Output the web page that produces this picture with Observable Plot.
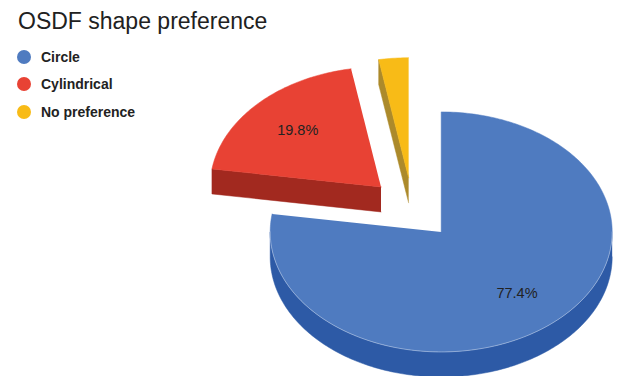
<!DOCTYPE html>
<html>
<head>
<meta charset="utf-8">
<script src="https://cdn.jsdelivr.net/npm/d3@7"></script>
<script src="https://cdn.jsdelivr.net/npm/@observablehq/plot@0.6"></script>
<style>
  body { margin: 0; background: #fff; }
  #wrap { position: relative; width: 618px; height: 376px; overflow: hidden; font-family: "Liberation Sans", Arial, sans-serif; }
  #chart { position: absolute; left: 0; top: 0; }
  #title { position: absolute; left: 18px; top: 9.5px; font-size: 23px; line-height: 1; color: #212121; white-space: nowrap; }
  .row { position: absolute; left: 17px; height: 14px; display: flex; align-items: center; }
  .sw { width: 14px; height: 14px; border-radius: 50%; margin-right: 10px; }
  .lab { font-size: 14px; font-weight: bold; color: #222; line-height: 1; white-space: nowrap; }
</style>
</head>
<body>
<div id="wrap">
  <div id="chart"></div>
  <div id="title"></div>
  <div id="legend"></div>
</div>
<script>
// ---- data ----
const title = "OSDF shape preference";
const categories = ["Circle", "Cylindrical", "No preference"];
const values = [77.4, 19.8, 2.8];
const labels = ["77.4%", "19.8%", ""];
// ---- styles ----
const topColors = ["#4f7bc0", "#e84234", "#f8bb17"];
const sideColors = ["#2d5aa6", "#a2291f", "#ac8a2b"];

// ---- layout (3D pie geometry) ----
const W = 618, H = 376;
const cx = 412, cy = 208, rx = 171, ry = 120, depth = 25, explode = 44;
const rad = d => d * Math.PI / 180;

const total = d3.sum(values);
let acc = 0;
const slices = categories.map((c, i) => {
  const a0 = acc / total * 360;
  acc += values[i];
  const a1 = acc / total * 360;
  const mid = (a0 + a1) / 2;
  const ox = cx + explode * Math.sin(rad(mid));
  const oy = cy - explode * (ry / rx) * Math.cos(rad(mid));
  return {c, i, a0, a1, mid, ox, oy};
});

function pt(s, a, r = 1, dy = 0) {
  return {x: s.ox + rx * r * Math.sin(rad(a)), y: s.oy - ry * r * Math.cos(rad(a)) + dy};
}
function arc(s, a0, a1, dy = 0) {
  const n = Math.max(2, Math.ceil(Math.abs(a1 - a0)));
  return d3.range(n + 1).map(k => pt(s, a0 + (a1 - a0) * k / n, 1, dy));
}

const marks = [];
const order = [...slices].sort((a, b) => a.oy - b.oy);
for (const s of order) {
  const side = sideColors[s.i], top = topColors[s.i];
  // outer rim side (visible between 90 and 270 deg)
  const r0 = Math.max(s.a0, 90), r1 = Math.min(s.a1, 270);
  if (r1 > r0) {
    const poly = [...arc(s, r0, r1), ...arc(s, r1, r0, depth)];
    marks.push(Plot.line(poly, {x: "x", y: "y", fill: side, stroke: side, strokeWidth: 0.5}));
  }
  // radial edge at start
  if (Math.cos(rad(s.a0 - 90)) < -1e-6) {
    const p = pt(s, s.a0), o = {x: s.ox, y: s.oy};
    const poly = [o, p, {x: p.x, y: p.y + depth}, {x: o.x, y: o.y + depth}];
    marks.push(Plot.line(poly, {x: "x", y: "y", fill: side, stroke: side, strokeWidth: 0.5}));
  }
  // radial edge at end
  if (Math.cos(rad(s.a1 + 90)) < -1e-6) {
    const p = pt(s, s.a1), o = {x: s.ox, y: s.oy};
    const poly = [o, p, {x: p.x, y: p.y + depth}, {x: o.x, y: o.y + depth}];
    marks.push(Plot.line(poly, {x: "x", y: "y", fill: side, stroke: side, strokeWidth: 0.5}));
  }
  // top face
  const face = [{x: s.ox, y: s.oy}, ...arc(s, s.a0, s.a1)];
  marks.push(Plot.line(face, {x: "x", y: "y", fill: top, stroke: top, strokeWidth: 0.5}));
  // light rim highlight on the front edge
  if (r1 > r0) {
    marks.push(Plot.line(arc(s, r0, r1), {x: "x", y: "y", stroke: "#ffffff", strokeOpacity: 0.35, strokeWidth: 1}));
  }
}
// slice labels
const labelData = slices.filter(s => labels[s.i]).map(s => ({...pt(s, s.mid, 0.68), text: labels[s.i]}));
marks.push(Plot.text(labelData, {x: "x", y: "y", text: "text", fill: "#222", fontSize: 14.5, fontFamily: "Liberation Sans, Arial, sans-serif"}));

const chart = Plot.plot({
  width: W, height: H,
  margin: 0,
  x: {type: "identity", axis: null},
  y: {type: "identity", axis: null},
  style: {background: "transparent", overflow: "visible"},
  marks
});
document.getElementById("chart").appendChild(chart);

// title
document.getElementById("title").textContent = title;
// legend
const legendY = [56.7, 84.3, 112];
const lg = document.getElementById("legend");
categories.forEach((c, i) => {
  const row = document.createElement("div");
  row.className = "row";
  row.style.top = (legendY[i] - 7) + "px";
  row.innerHTML = `<div class="sw" style="background:${topColors[i]}"></div><div class="lab"></div>`;
  row.querySelector(".lab").textContent = c;
  lg.appendChild(row);
});
</script>
</body>
</html>
